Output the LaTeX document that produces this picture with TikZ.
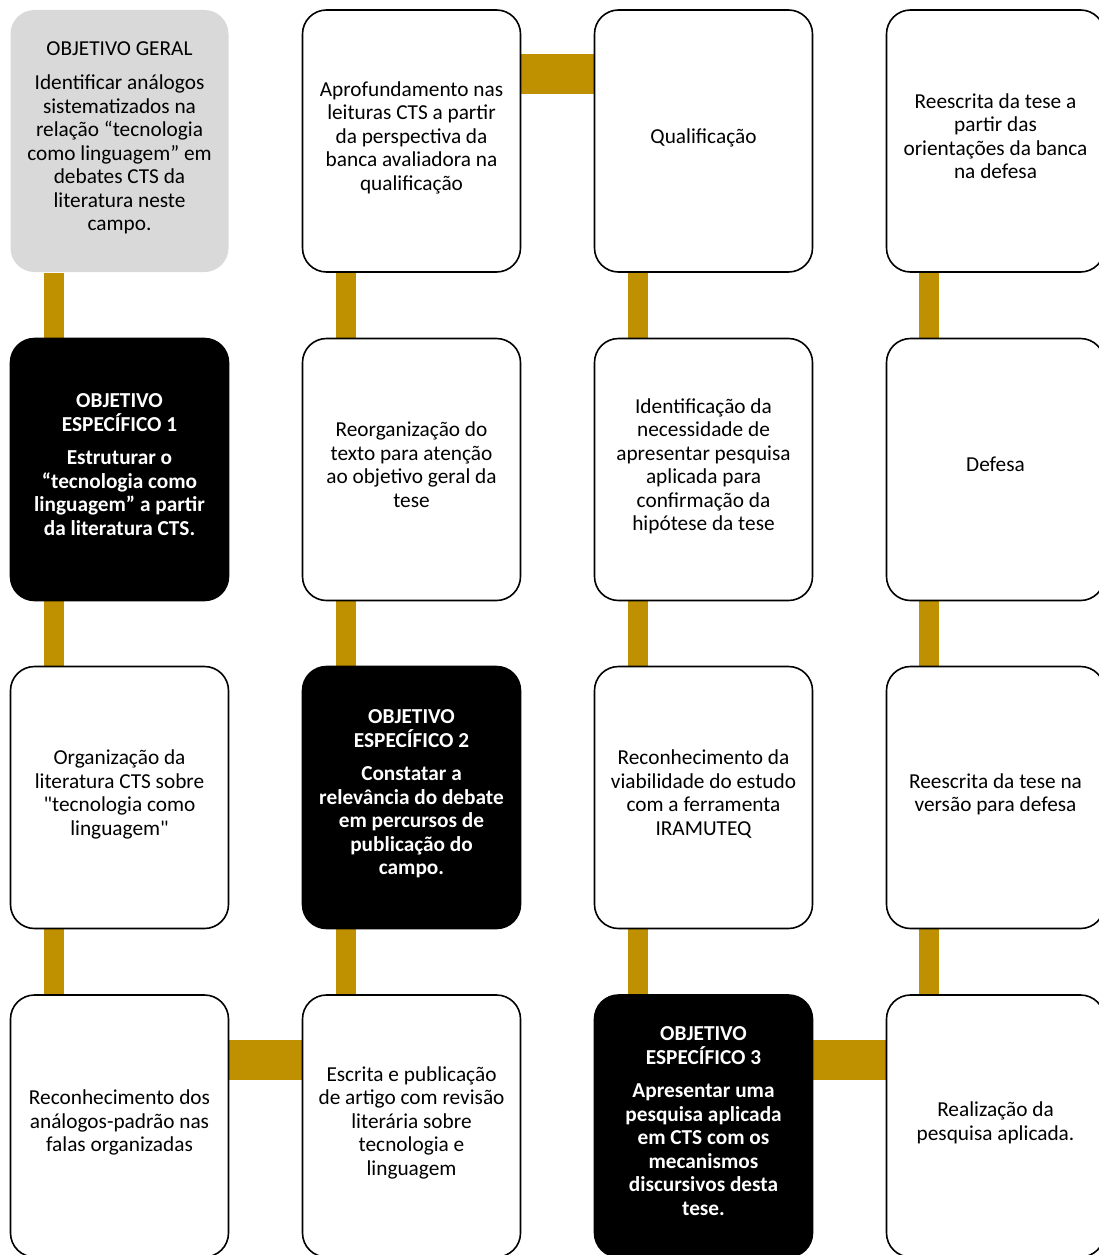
\documentclass[tikz,border=0pt]{standalone}
\usepackage{fontspec}
\setmainfont{Carlito}[Ligatures=TeXOff]
\usetikzlibrary{backgrounds}

\definecolor{barGold}{HTML}{BF9000}
\definecolor{boxGrey}{HTML}{D9D9D9}

\tikzset{
  stage/.style={draw=black, line width=1.6pt, fill=white, rounded corners=24pt,
    minimum width=218pt, minimum height=262pt, align=center, inner sep=4pt,
    font=\fontsize{21.3}{23.5}\selectfont,
    execute at end node={\rule[-10pt]{0pt}{10pt}}},
  goal/.style={stage, fill=black, text=white,
    font=\fontsize{21.3}{23.5}\selectfont\bfseries},
  general/.style={stage, draw=none, fill=boxGrey},
  vbar/.style={barGold, line width=20pt},
  hbar/.style={barGold, line width=40pt}
}

\begin{document}
\begin{tikzpicture}[x=1pt, y=-1pt]
    \useasboundingbox (0,0) rectangle (1099,1255);

    % Column 1
    \node[general] (gen) at (119.5, 141) {OBJETIVO GERAL\\[11pt]Identificar análogos\\sistematizados na\\relação “tecnologia\\como linguagem” em\\debates CTS da\\literatura neste\\campo.};
    \node[goal] (oe1) at (119.5, 469.5) {OBJETIVO\\ESPECÍFICO 1\\[10pt]Estruturar o\\“tecnologia como\\linguagem” a partir\\da literatura CTS.};
    \node[stage] (orgLit) at (119.5, 797.5) {Organização da\\literatura CTS sobre\\"tecnologia como\\linguagem"};
    \node[stage] (recPad) at (119.5, 1126) {Reconhecimento dos\\análogos-padrão nas\\falas organizadas};

    % Column 2
    \node[stage] (aprof) at (411.5, 141) {Aprofundamento nas\\leituras CTS a partir\\da perspectiva da\\banca avaliadora na\\qualificação};
    \node[stage] (reorg) at (411.5, 469.5) {Reorganização do\\texto para atenção\\ao objetivo geral da\\tese};
    \node[goal] (oe2) at (411.5, 797.5) {OBJETIVO\\ESPECÍFICO 2\\[10pt]Constatar a\\relevância do debate\\em percursos de\\publicação do\\campo.};
    \node[stage] (escrita) at (411.5, 1126) {Escrita e publicação\\de artigo com revisão\\literária sobre\\tecnologia e\\linguagem};

    % Column 3
    \node[stage] (qualif) at (703.5, 141) {Qualificação};
    \node[stage] (ident) at (703.5, 469.5) {Identificação da\\necessidade de\\apresentar pesquisa\\aplicada para\\confirmação da\\hipótese da tese};
    \node[stage] (viab) at (703.5, 797.5) {Reconhecimento da\\viabilidade do estudo\\com a ferramenta\\IRAMUTEQ};
    \node[goal] (oe3) at (703.5, 1126) {OBJETIVO\\ESPECÍFICO 3\\[10pt]Apresentar uma\\pesquisa aplicada\\em CTS com os\\mecanismos\\discursivos desta\\tese.};

    % Column 4
    \node[stage] (reescO) at (995.5, 141) {Reescrita da tese a\\partir das\\orientações da banca\\na defesa};
    \node[stage] (defesa) at (995.5, 469.5) {Defesa};
    \node[stage] (reescV) at (995.5, 797.5) {Reescrita da tese na\\versão para defesa};
    \node[stage] (realiz) at (995.5, 1126) {Realização da\\pesquisa aplicada.};

    % Bar guides
    \coordinate (c1) at (54, 0);
    \coordinate (c2) at (346, 0);
    \coordinate (c3) at (638, 0);
    \coordinate (c4) at (929, 0);
    \coordinate (r1) at (0, 74);
    \coordinate (r4) at (0, 1060);

    \begin{scope}[on background layer]
        \draw[vbar] (gen.south -| c1) -- (oe1.north -| c1);
        \draw[vbar] (oe1.south -| c1) -- (orgLit.north -| c1);
        \draw[vbar] (orgLit.south -| c1) -- (recPad.north -| c1);
        \draw[hbar] (recPad.east |- r4) -- (escrita.west |- r4);

        \draw[vbar] (escrita.north -| c2) -- (oe2.south -| c2);
        \draw[vbar] (oe2.north -| c2) -- (reorg.south -| c2);
        \draw[vbar] (reorg.north -| c2) -- (aprof.south -| c2);
        \draw[hbar] (aprof.east |- r1) -- (qualif.west |- r1);

        \draw[vbar] (qualif.south -| c3) -- (ident.north -| c3);
        \draw[vbar] (ident.south -| c3) -- (viab.north -| c3);
        \draw[vbar] (viab.south -| c3) -- (oe3.north -| c3);
        \draw[hbar] (oe3.east |- r4) -- (realiz.west |- r4);

        \draw[vbar] (realiz.north -| c4) -- (reescV.south -| c4);
        \draw[vbar] (reescV.north -| c4) -- (defesa.south -| c4);
        \draw[vbar] (defesa.north -| c4) -- (reescO.south -| c4);
    \end{scope}
\end{tikzpicture}
\end{document}
